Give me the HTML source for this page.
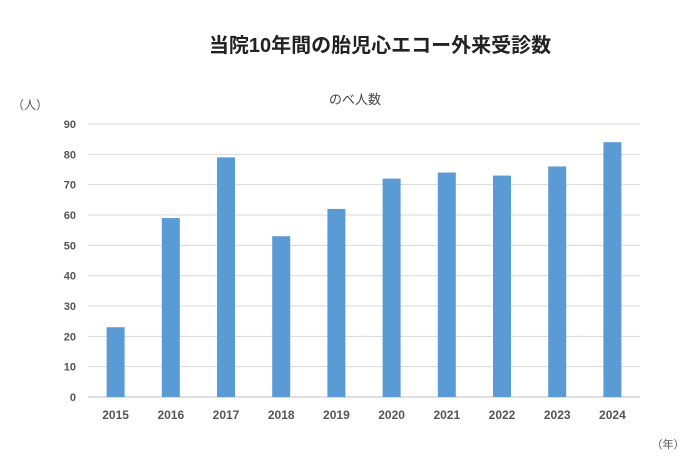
<!DOCTYPE html>
<html><head><meta charset="utf-8">
<style>
html,body{margin:0;padding:0;background:#fff;}
svg{display:block;font-family:"Liberation Sans","Noto Sans CJK JP",sans-serif;}
</style></head>
<body>
<svg id="chart" width="700" height="474" viewBox="0 0 700 474">
<text x="380" y="52" text-anchor="middle" font-size="20" font-weight="bold" fill="#222">当院10年間の胎児心エコー外来受診数</text>
<text x="355" y="104" text-anchor="middle" font-size="13" fill="#444">のべ人数</text>
<text x="30" y="109" text-anchor="middle" font-size="12" fill="#555">（人）</text>
<text x="668" y="448" text-anchor="middle" font-size="11" fill="#555">（年）</text>
<g id="grid"></g><g id="bars"></g><g id="labels"></g>
</svg>
<script>
const categories=["2015","2016","2017","2018","2019","2020","2021","2022","2023","2024"];
const values=[23,59,79,53,62,72,74,73,76,84];
const yTicks=[0,10,20,30,40,50,60,70,80,90];
const NS="http://www.w3.org/2000/svg";
const x0=88,x1=640,yBase=397,yTop=124,yMax=90;
function y(v){return yBase-(v/yMax)*(yBase-yTop);}
function xc(i){return x0+(x1-x0)/categories.length*(i+0.5);}
const grid=document.getElementById('grid'),bars=document.getElementById('bars'),labels=document.getElementById('labels');
yTicks.forEach(t=>{
 const l=document.createElementNS(NS,'line');
 l.setAttribute('x1',x0);l.setAttribute('x2',x1);l.setAttribute('y1',y(t));l.setAttribute('y2',y(t));
 l.setAttribute('stroke',t===0?'#bfbfbf':'#d9d9d9');l.setAttribute('stroke-width','1');
 
 
 grid.appendChild(l);
 const tx=document.createElementNS(NS,'text');
 tx.setAttribute('x',76);tx.setAttribute('y',y(t)+4);tx.setAttribute('text-anchor','end');
 tx.setAttribute('font-size','11');tx.setAttribute('font-weight','bold');tx.setAttribute('fill','#555');
 tx.textContent=t;
 
 
 labels.appendChild(tx);
});
categories.forEach((c,i)=>{
 const r=document.createElementNS(NS,'rect');
 const bw=18;
 r.setAttribute('x',xc(i)-bw/2);r.setAttribute('width',bw);
 r.setAttribute('y',y(values[i]));r.setAttribute('height',yBase-y(values[i]));
 r.setAttribute('fill','#5b9bd5');
 
 
 bars.appendChild(r);
 const tx=document.createElementNS(NS,'text');
 tx.setAttribute('x',xc(i));tx.setAttribute('y',419);tx.setAttribute('text-anchor','middle');
 tx.setAttribute('font-size','12');tx.setAttribute('font-weight','bold');tx.setAttribute('fill','#555');
 tx.textContent=c;
 
 
 labels.appendChild(tx);
});
</script>
</body></html>
